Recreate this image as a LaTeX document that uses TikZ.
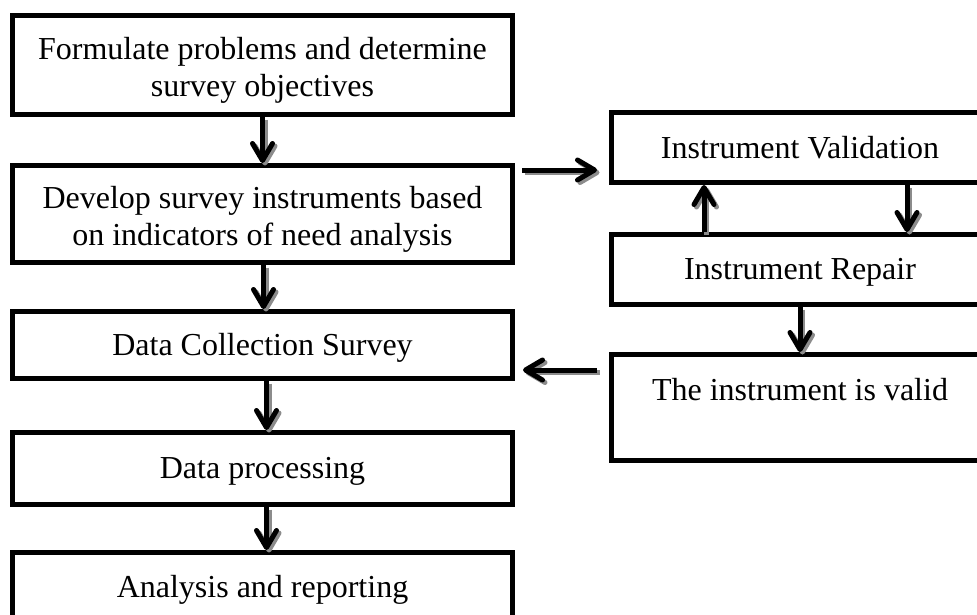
\documentclass[tikz,border=0pt]{standalone}
\usepackage{fontspec}
\setmainfont{Liberation Serif}
\usetikzlibrary{arrows.meta}
\definecolor{shadowgray}{HTML}{8C8C8C}
\tikzset{
  box/.style={draw=black, line width=5pt, rectangle, inner sep=0pt, align=center,
    font=\fontsize{32}{37}\selectfont},
  lbox/.style={box, minimum width=500pt},
  rbox/.style={box, minimum width=377pt},
  arr/.style={line width=5pt, -{Straight Barb[length=17pt,width=20pt,round]}},
  shd/.style={arr, draw=shadowgray}
}
\newcommand{\lift}[1]{\rule{0pt}{#1}}
\newcommand{\conn}[3][]{%
  \begin{scope}[transform canvas={xshift=2.5pt,yshift=-2.5pt}]
    \draw[shd,#1] #2 -- #3;
  \end{scope}
  \draw[arr,#1] #2 -- #3;}
\begin{document}
\begin{tikzpicture}[x=1pt,y=-1pt]
\clip (0,0) rectangle (977,614);
\fill[white] (0,0) rectangle (977,614);
% left column
\node[lbox, minimum height=99pt] (b1) at (262.5,65) {\lift{32pt}Formulate problems and determine\\survey objectives};
\node[lbox, minimum height=97pt] (b2) at (262.5,214) {\lift{32pt}Develop survey instruments based\\on indicators of need analysis};
\node[lbox, minimum height=67pt] (b3) at (262.5,345) {\lift{28pt}Data Collection Survey};
\node[lbox, minimum height=72pt] (b4) at (262.5,468.5) {\lift{26pt}Data processing};
\node[lbox, minimum height=67pt] (b5) at (262.5,586) {\lift{30pt}Analysis and reporting};
% right column
\node[rbox, minimum height=70pt] (v) at (800,147.5) {Instrument Validation};
\node[rbox, minimum height=70pt] (r) at (800,269.5) {\lift{26pt}Instrument Repair};
\node[rbox, minimum height=106pt] (val) at (800,407.5) {The instrument is valid\\\mbox{}};
% vertical arrows left
\conn{(b1.south)}{(b2.north)}
\conn{([xshift=1pt]b2.south)}{([xshift=1pt]b3.north)}
\conn{([xshift=4pt]b3.south)}{([xshift=4pt]b4.north)}
\conn{([xshift=4pt]b4.south)}{([xshift=4pt]b5.north)}
% right column arrows
\conn{([xshift=-96pt]r.north)}{([xshift=-96pt]v.south)}
\conn{([xshift=107pt]v.south)}{([xshift=107pt]r.north)}
\conn{(r.south)}{(val.north)}
% horizontal arrows
\conn[shorten <=7pt, shorten >=12pt]{(b2.east |- {(0,170)})}{(v.west |- {(0,170)})}
\conn[shorten <=12pt, shorten >=8pt]{(val.west |- {(0,370)})}{(b3.east |- {(0,370)})}
\end{tikzpicture}
\end{document}
